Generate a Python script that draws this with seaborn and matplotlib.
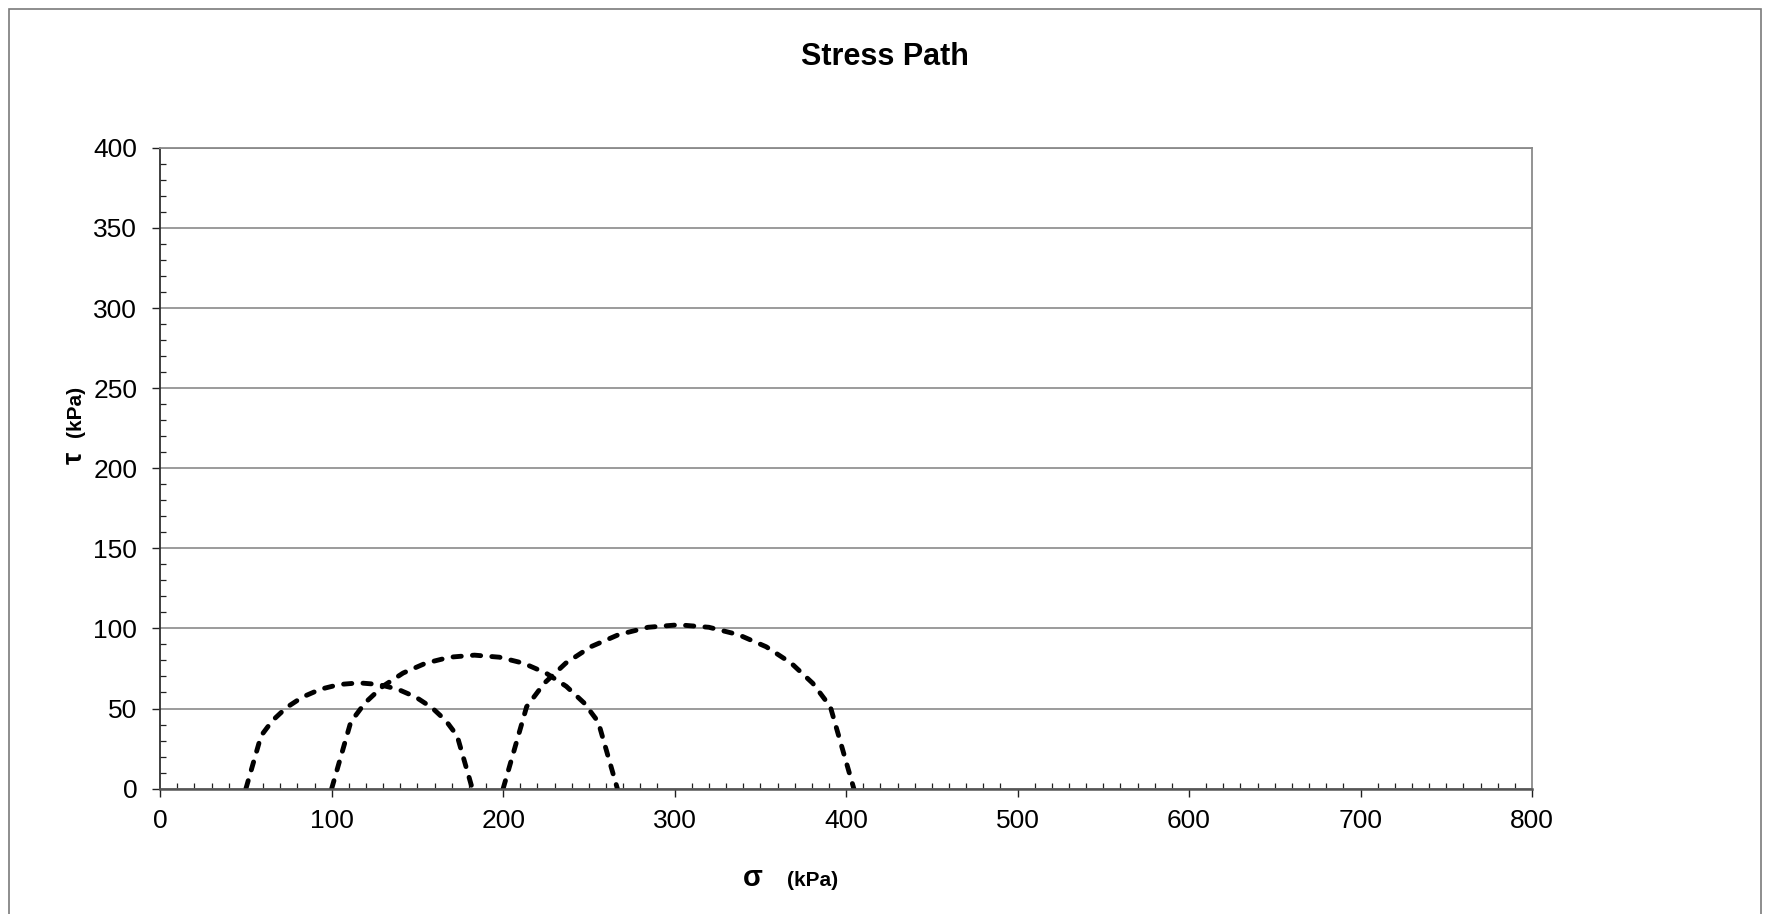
import matplotlib
matplotlib.use("Agg")
import matplotlib.pyplot as plt
from matplotlib.patches import Rectangle
from matplotlib.ticker import MultipleLocator
import seaborn as sns
import pandas as pd

# Mohr circles (sigma, tau)
circle1_sigma = [50, 58.84, 65.44, 73.58, 83, 93.43, 104.54, 116, 127.46, 138.57, 149, 158.42, 166.56, 173.16, 182]
circle1_tau = [0, 33.0, 42.42, 50.56, 57.16, 62.02, 65.0, 66, 65.0, 62.02, 57.16, 50.56, 42.42, 33.0, 0]
circle2_sigma = [100, 111.16, 119.49, 129.75, 141.65, 154.81, 168.84, 183.3, 197.76, 211.79, 224.95, 236.85, 247.11, 255.44, 266.6]
circle2_tau = [0, 41.65, 53.55, 63.81, 72.14, 78.28, 82.03, 83.3, 82.03, 78.28, 72.14, 63.81, 53.55, 41.65, 0]
circle3_sigma = [200, 213.70, 223.93, 236.52, 251.12, 267.28, 284.50, 302.25, 320.0, 337.22, 353.38, 367.98, 380.57, 390.80, 404.5]
circle3_tau = [0, 51.13, 65.73, 78.32, 88.55, 96.08, 100.70, 102.25, 100.70, 96.08, 88.55, 78.32, 65.73, 51.13, 0]

x_ticks = [0, 100, 200, 300, 400, 500, 600, 700, 800]
y_ticks = [0, 50, 100, 150, 200, 250, 300, 350, 400]

rows = []
for name, xs, ys in [("c1", circle1_sigma, circle1_tau),
                     ("c2", circle2_sigma, circle2_tau),
                     ("c3", circle3_sigma, circle3_tau)]:
    for i, (x, y) in enumerate(zip(xs, ys)):
        rows.append({"circle": name, "order": i, "sigma": x, "tau": y})
df = pd.DataFrame(rows)

sns.set_style("ticks")
plt.rcParams["font.family"] = ["Liberation Sans", "DejaVu Sans"]
plt.rcParams["text.color"] = "black"
plt.rcParams["axes.labelcolor"] = "black"
plt.rcParams["xtick.color"] = "black"
plt.rcParams["ytick.color"] = "black"

W, H = 1769, 914
fig = plt.figure(figsize=(W / 100, H / 100), dpi=100)
ax = fig.add_axes([160.2 / W, 1 - 788.6 / H, (1532 - 160.2) / W, (788.6 - 147.8) / H])

for name in ["c1", "c2", "c3"]:
    sub = df[df["circle"] == name]
    sns.lineplot(data=sub, x="sigma", y="tau", sort=False, estimator=None,
                 color="black", linewidth=3.5, linestyle="--", ax=ax, legend=False)
for line in ax.get_lines():
    line.set_dashes((1.7, 2.3))
    line.set_dash_capstyle("round")
    line.set_solid_joinstyle("round")

ax.set_xlim(0, 800)
ax.set_ylim(0, 400)
ax.set_xticks(x_ticks)
ax.set_yticks(y_ticks)
ax.set_xticklabels([str(v) for v in x_ticks])
ax.set_yticklabels([str(v) for v in y_ticks])
ax.xaxis.set_minor_locator(MultipleLocator(10))
ax.yaxis.set_minor_locator(MultipleLocator(10))
ax.yaxis.grid(True, which="major", color="#8a8a8a", linewidth=1.2)
ax.xaxis.grid(False)
ax.set_axisbelow(True)

ax.tick_params(axis="both", which="both", bottom=True, left=True, top=False, right=False)
ax.tick_params(axis="both", which="major", direction="out", length=5.5, width=1.0,
               color="#202020", labelsize=19, labelcolor="black", pad=11)
ax.tick_params(axis="both", which="minor", direction="in", length=4.5, width=0.9, color="#202020")
ax.tick_params(axis="x", which="major", pad=9)

for side in ["top", "right"]:
    ax.spines[side].set_color("#8a8a8a")
    ax.spines[side].set_linewidth(1.3)
ax.spines["left"].set_color("#303030")
ax.spines["bottom"].set_color("#555555")
ax.spines["left"].set_linewidth(1.3)
ax.spines["bottom"].set_linewidth(1.8)
for s in ax.spines.values():
    s.set_visible(True)

ax.set_xlabel("")
ax.set_ylabel("")

fig.text(0.5, 1 - 57 / H, "Stress Path", ha="center", va="center",
         fontsize=22, fontweight="bold", color="black")

fig.text(75 / W, 1 - 458 / H, "τ", rotation=90, ha="center", va="center",
         fontsize=20, fontweight="bold", color="black")
fig.text(75 / W, 1 - 411 / H, "(kPa)", rotation=90, ha="center", va="center",
         fontsize=15, fontweight="bold", color="black")
fig.text(753 / W, 1 - 878 / H, "σ", ha="center", va="center",
         fontsize=21, fontweight="bold", color="black")
fig.text(813 / W, 1 - 880 / H, "(kPa)", ha="center", va="center",
         fontsize=15, fontweight="bold", color="black")

border = Rectangle((9 / W, -0.1), (1761 - 9) / W, 1.1 - 9 / H, transform=fig.transFigure,
                   fill=False, edgecolor="#7a7a7a", linewidth=1.2, clip_on=False)
fig.patches.append(border)

fig.savefig("out.png", dpi=100)
